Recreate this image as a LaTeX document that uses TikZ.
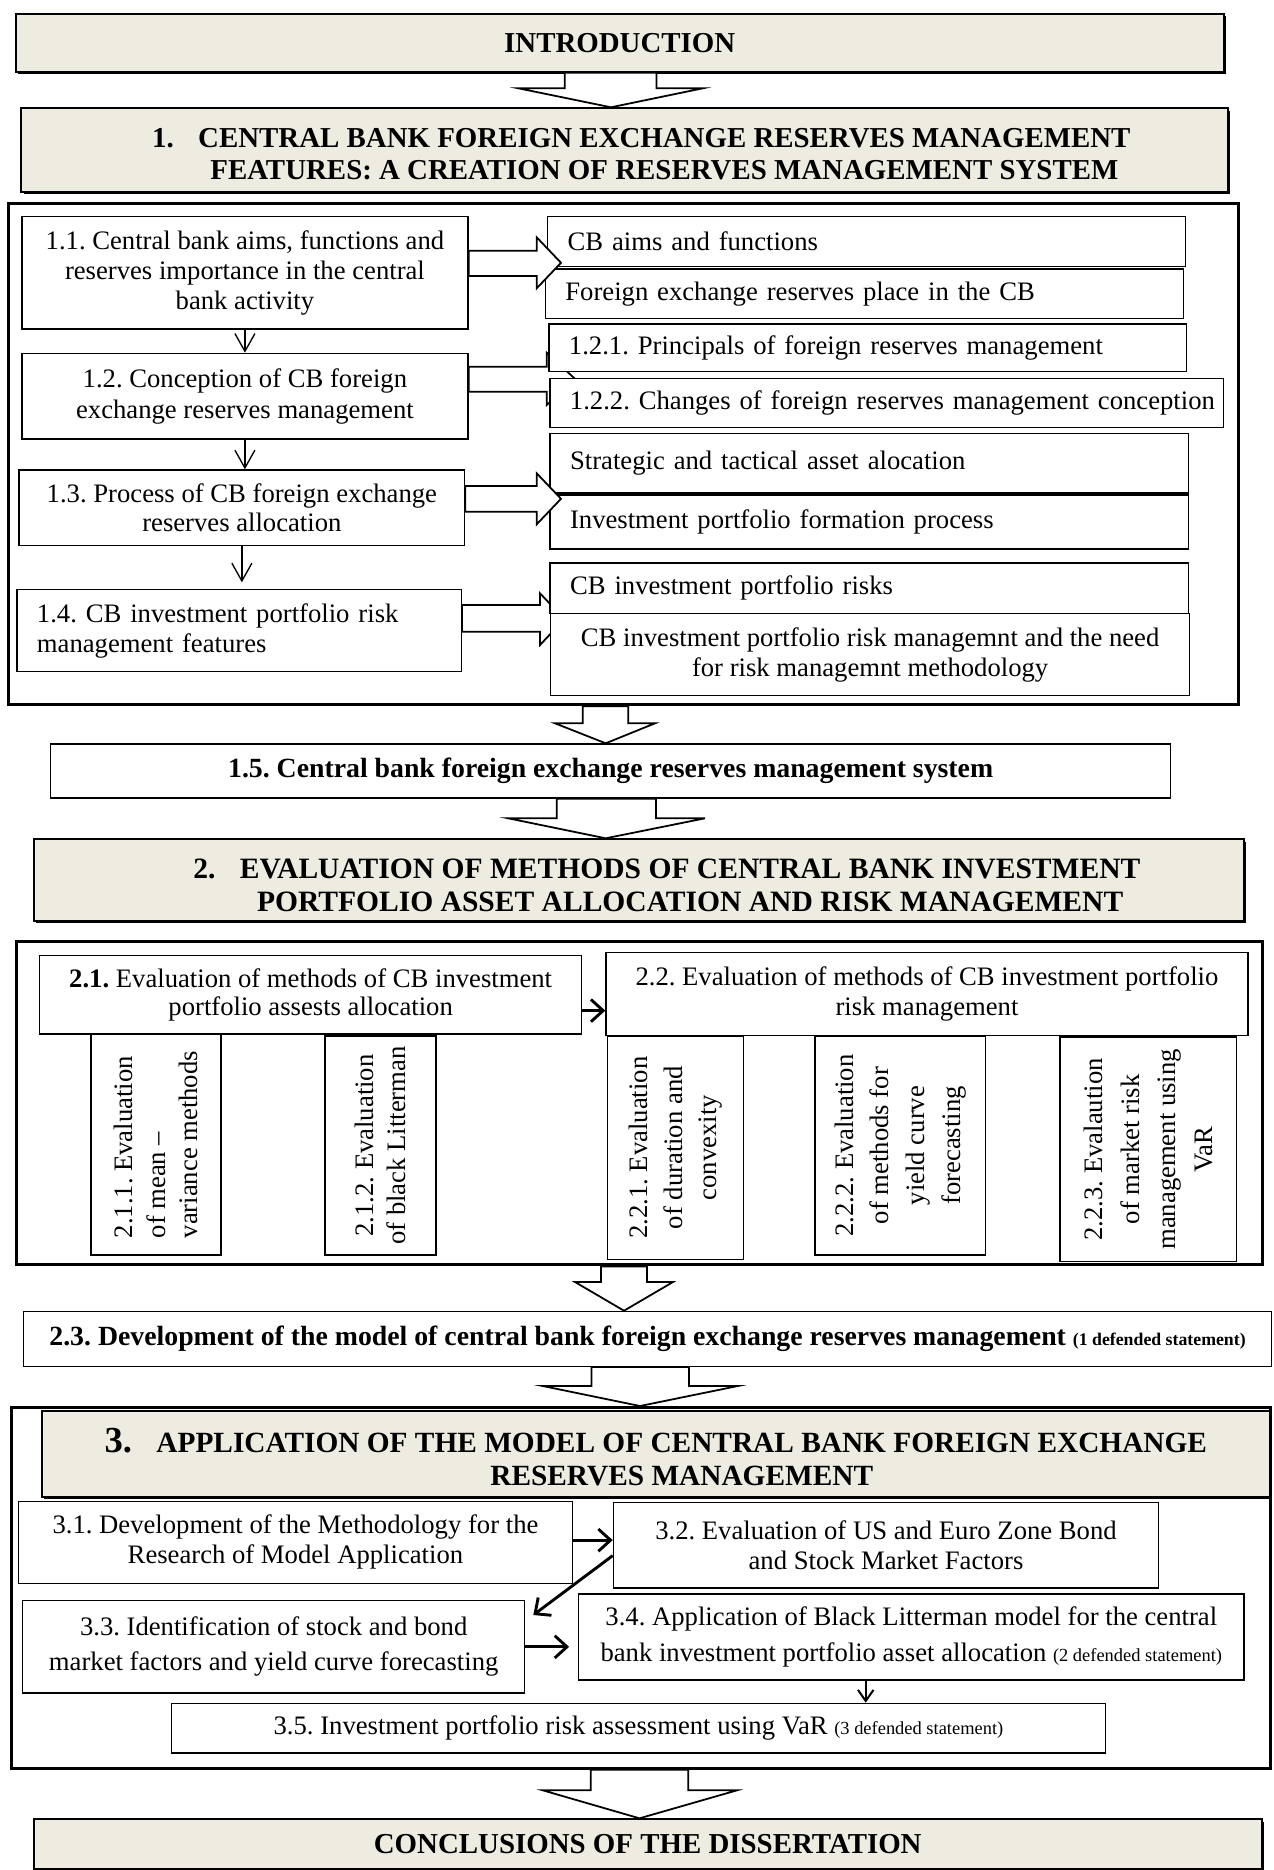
\documentclass[tikz,border=0pt]{standalone}
\usepackage{fontspec}
\setmainfont{Liberation Serif}
\usetikzlibrary{arrows.meta,shadows,calc}
\definecolor{beige}{HTML}{EEECE1}
\frenchspacing

\newcommand\mkbox[8][]{%
  \pgfmathsetmacro\myBW{(#6-#4)*0.45}%
  \pgfmathsetmacro\myBH{(#7-#5)*0.45}%
  \node[#2, anchor=north west, minimum width=\myBW pt, minimum height=\myBH pt, #1] (#3) at (#4,#5) {#8};}

\newcommand\mkleft[8][20]{%
  \pgfmathsetmacro\myBW{(#6-#4)*0.45}%
  \pgfmathsetmacro\myBH{(#7-#5)*0.45}%
  \pgfmathsetmacro\mySep{#1*0.45}%
  \pgfmathsetmacro\myTW{\myBW-2*\mySep}%
  \node[#2, anchor=north west, minimum width=\myBW pt, minimum height=\myBH pt, inner xsep=\mySep pt, text width=\myTW pt, align=left] (#3) at (#4,#5) {#8};}

\newcommand\mkvert[8][center]{%
  \pgfmathsetmacro\myBW{(#5-#3)*0.45}%
  \pgfmathsetmacro\myBH{(#6-#4)*0.45}%
  \pgfmathsetmacro\myCX{(#3+#5)/2}%
  \pgfmathsetmacro\myCY{(#4+#6)/2}%
  \node[vertbox, rotate=90, minimum width=\myBH pt, minimum height=\myBW pt, align=#1, #7] (#2) at (\myCX,\myCY) {#8};}

% block arrow pointing down: from, to, stem left, stem right, head left, head right, tip x, head length (px)
\newcommand\bdown[8]{%
  \draw[blockarr] let \p1=(#1.south), \p2=(#2.north) in
   (#3*0.45pt,\y1) -- (#3*0.45pt,\y2+#8*0.45pt) -- (#5*0.45pt,\y2+#8*0.45pt) -- (#7*0.45pt,\y2)
   -- (#6*0.45pt,\y2+#8*0.45pt) -- (#4*0.45pt,\y2+#8*0.45pt) -- (#4*0.45pt,\y1) -- cycle;}

% block arrow pointing right: from, stem top y, stem bottom y, back x, head top y, head bottom y, tip x (px)
\newcommand\bright[7]{%
  \draw[blockarr] let \p1=(#1.east) in
   (\x1,-#2*0.45pt) -- (#4*0.45pt,-#2*0.45pt) -- (#4*0.45pt,-#5*0.45pt) -- (#7*0.45pt,{-(#5+#6)/2*0.45pt})
   -- (#4*0.45pt,-#6*0.45pt) -- (#4*0.45pt,-#3*0.45pt) -- (\x1,-#3*0.45pt) -- cycle;}

\begin{document}
\begin{tikzpicture}[x=0.45pt,y=-0.45pt,
  plainbox/.style={draw, line width=0.6pt, fill=white, inner sep=0pt, font=\fontsize{12}{13.5}\selectfont},
  headbox/.style={draw, line width=0.9pt, fill=beige, inner sep=0pt,
    drop shadow={shadow xshift=1pt, shadow yshift=-1pt, fill=black, opacity=1},
    font=\bfseries\fontsize{13}{14.4}\selectfont},
  headtext/.style={inner sep=0pt, font=\bfseries\fontsize{13}{14.4}\selectfont},
  framebox/.style={draw, line width=1.4pt, inner sep=0pt},
  vertbox/.style={draw, line width=0.6pt, fill=white, inner sep=2pt, font=\fontsize{12}{14.5}\selectfont},
  blockarr/.style={draw, fill=white, line width=0.8pt, line join=miter},
  thinarr/.style={line width=0.6pt, -{Straight Barb[length=8pt,width=9pt]}},
  boldarr/.style={line width=1.3pt, -{Straight Barb[length=5.5pt,width=10pt]}},
  medarr/.style={line width=0.9pt, -{Straight Barb[length=5pt,width=7pt]}}]
\useasboundingbox (0,0) rectangle (1274,1870);

% ---------- frames ----------
\mkbox{framebox}{frame1}{7.3}{202}{1237}{703}{}
\mkbox{framebox}{frame2}{14.6}{940}{1261}{1263.3}{}
\mkbox{framebox}{frame3}{10}{1406}{1269}{1766.7}{}

% ---------- headings ----------
\mkbox{headbox}{intro}{14.6}{12.7}{1222.9}{70.7}{INTRODUCTION}
\mkbox{headbox}{s1}{20.3}{107.3}{1227}{190.7}{}
\node[headtext] (s1t) at ([xshift=7.5pt,yshift=-3pt]s1.center)
  {\begin{tabular}{@{}l@{\hspace{11pt}}c@{}}1. & CENTRAL BANK FOREIGN EXCHANGE RESERVES MANAGEMENT\\ & FEATURES: A CREATION OF RESERVES MANAGEMENT SYSTEM\end{tabular}};

% ---------- section 1 left column ----------
\mkbox[align=center]{plainbox}{b11}{21.2}{216}{467.3}{328.3}{1.1. Central bank aims, functions and\\reserves importance in the central\\bank activity}
\mkbox[align=center, font=\fontsize{12}{13.8}\selectfont]{plainbox}{b12}{21.2}{352.7}{467.3}{438.3}{1.2. Conception of CB foreign\\exchange reserves management}
\mkbox[align=center, font=\fontsize{12}{12.9}\selectfont]{plainbox}{b13}{18.4}{469.3}{464}{545}{1.3. Process of CB foreign exchange\\reserves allocation}
\mkleft{plainbox}{b14}{16.3}{589}{460.7}{671}{1.4. CB investment portfolio risk\\management features}

\draw[thinarr] (b11.south) -- (b12.north);
\draw[thinarr] (b12.south) -- (b12.south |- b13.north);
\draw[thinarr, shorten >=3pt] (b13.south) -- (b13.south |- b14.north);

% arrows partly hidden behind the right boxes
\bright{b12}{366.7}{391.7}{546.7}{352.7}{405}{575}
\bright{b14}{605}{631.7}{540}{593.3}{645}{564.4}

% ---------- section 1 right column ----------
\mkleft{plainbox}{r1}{547}{216}{1185}{265.7}{\mbox{CB aims and functions}}
\mkleft{plainbox}{r2}{544.7}{268.3}{1182.8}{317.7}{\mbox{Foreign exchange reserves place in the CB}}
\mkleft{plainbox}{r3}{548.3}{323.3}{1186}{371}{\mbox{1.2.1. Principals of foreign reserves management}}
\mkleft{plainbox}{r4}{549.3}{377.7}{1222.6}{427}{\mbox{1.2.2. Changes of foreign reserves management conception}}
\mkleft{plainbox}{r5}{549.4}{432.5}{1187.5}{492.3}{\mbox{Strategic and tactical asset alocation}}
\mkleft{plainbox}{r6}{549.4}{494.3}{1187.5}{548.3}{\mbox{Investment portfolio formation process}}
\mkleft{plainbox}{r7}{549.4}{562.3}{1187.5}{612.7}{\mbox{CB investment portfolio risks}}
\mkbox[align=center]{plainbox}{r8}{550}{612.7}{1188.9}{695}{CB investment portfolio risk managemnt and the need\\for risk managemnt methodology}

\bright{b11}{250.7}{276}{536.7}{237.3}{288.3}{561}
\bright{b13}{486}{511.7}{536.7}{473.3}{524.3}{561}

% ---------- 1.5 and section 2 ----------
\mkbox[font=\bfseries\fontsize{12.5}{14}\selectfont]{plainbox}{b15}{50}{743.3}{1170}{797.3}{1.5. Central bank foreign exchange reserves management system}
\mkbox{headbox}{s2}{32.5}{838.3}{1243.2}{920}{}
\node[headtext, font=\bfseries\fontsize{13.3}{14.5}\selectfont] (s2t) at ([xshift=12.6pt,yshift=-3.8pt]s2.center)
  {\begin{tabular}{@{}l@{\hspace{11pt}}c@{}}2. & EVALUATION OF METHODS OF CENTRAL BANK INVESTMENT\\ & PORTFOLIO ASSET ALLOCATION AND RISK MANAGEMENT\end{tabular}};

\mkbox[align=center, font=\fontsize{12}{12.8}\selectfont]{plainbox}{b21}{39}{955}{581}{1033.3}{\textbf{2.1.} Evaluation of methods of CB investment\\portfolio assests allocation}
\mkbox[align=center]{plainbox}{b22}{605.3}{951.7}{1247.3}{1035}{2.2. Evaluation of methods of CB investment portfolio\\risk management}

\mkvert[left]{v211}{91}{1034.3}{221}{1255}{}{2.1.1. Evaluation\\of mean --\\variance methods}
\mkvert{v212}{325}{1036}{436}{1255}{}{2.1.2. Evaluation\\of black Litterman}
\mkvert{v221}{607.8}{1036}{743.5}{1259.3}{font=\fontsize{12}{15.5}\selectfont}{2.2.1. Evaluation\\of duration and\\convexity}
\mkvert{v222}{815}{1036}{985.6}{1255}{font=\fontsize{12}{16}\selectfont}{2.2.2. Evaluation\\of methods for\\yield curve\\forecasting}
\mkvert{v223}{1060}{1037}{1236.7}{1261.7}{font=\fontsize{12}{16.4}\selectfont}{2.2.3. Evalaution\\of market risk\\management using\\VaR}

\coordinate (c21) at ([yshift=-7.1pt]b21.east);
\draw[boldarr] (c21) -- (c21 -| b22.west);

\mkbox[font=\bfseries\fontsize{12.5}{14}\selectfont]{plainbox}{b23}{22.8}{1310.7}{1271}{1365.7}{2.3. Development of the model of central bank foreign exchange reserves management {\fontsize{8}{9}\selectfont (1 defended statement)}}

% ---------- section 3 ----------
\mkbox{headbox}{s3}{40.6}{1410}{1269}{1496}{}
\node[headtext, font=\bfseries\fontsize{13.2}{14.8}\selectfont] (s3t) at ([yshift=-3.8pt]s3.center)
  {\begin{tabular}{@{}l@{\hspace{11pt}}c@{}}\smash{\fontsize{16.5}{15}\selectfont 3.} & APPLICATION OF THE MODEL OF CENTRAL BANK FOREIGN EXCHANGE\\ & RESERVES MANAGEMENT\end{tabular}};

\mkbox[align=center]{plainbox}{b31}{17.9}{1500.7}{571.7}{1582.7}{3.1. Development of the Methodology for the\\Research of Model Application}
\mkbox[align=center]{plainbox}{b32}{612.7}{1501.7}{1157.9}{1587.3}{3.2. Evaluation of US and Euro Zone Bond\\and Stock Market Factors}
\mkbox[align=center, font=\fontsize{12}{15.75}\selectfont]{plainbox}{b33}{22}{1600}{524}{1692.3}{3.3. Identification of stock and bond\\market factors and yield curve forecasting}
\mkbox[align=center, font=\fontsize{12}{16.5}\selectfont]{plainbox}{b34}{578}{1593.3}{1243.2}{1679.3}{3.4. Application of Black Litterman model for the central\\bank investment portfolio asset allocation {\fontsize{8.3}{10}\selectfont (2 defended statement)}}
\mkbox{plainbox}{b35}{170.6}{1702.7}{1105}{1752.3}{3.5. Investment portfolio risk assessment using VaR {\fontsize{8.3}{10}\selectfont (3 defended statement)}}

\coordinate (c31) at ([yshift=1pt]b31.east);
\draw[boldarr] (c31) -- (c31 -| b32.west);
\draw[boldarr] ([yshift=-4.7pt]b32.west) -- ([xshift=3.6pt,yshift=-6.75pt]b33.north east);
\draw[boldarr, shorten >=4pt] (b33.east) -- (b33.east -| b34.west);
\coordinate (c34) at ([xshift=-20.5pt]b34.south);
\draw[medarr] (c34) -- (c34 |- b35.north);

\mkbox{headbox}{concl}{32.5}{1818.3}{1261}{1867.5}{CONCLUSIONS OF THE DISSERTATION}

% ---------- block arrows down ----------
\bdown{intro}{s1}{564.7}{656.5}{518.4}{702.8}{611}{19}
\bdown{frame1}{b15}{582.7}{628.3}{555}{655}{605.7}{20}
\bdown{b15}{s2}{556.7}{656}{508.3}{705}{605.7}{20}
\bdown{frame2}{b23}{601}{647}{575}{673}{624}{28.7}
\bdown{b23}{frame3}{591.5}{689}{542.8}{737.8}{640}{20}
\bdown{frame3}{concl}{590.7}{688.2}{542.8}{737}{639.5}{28}
\end{tikzpicture}
\end{document}
